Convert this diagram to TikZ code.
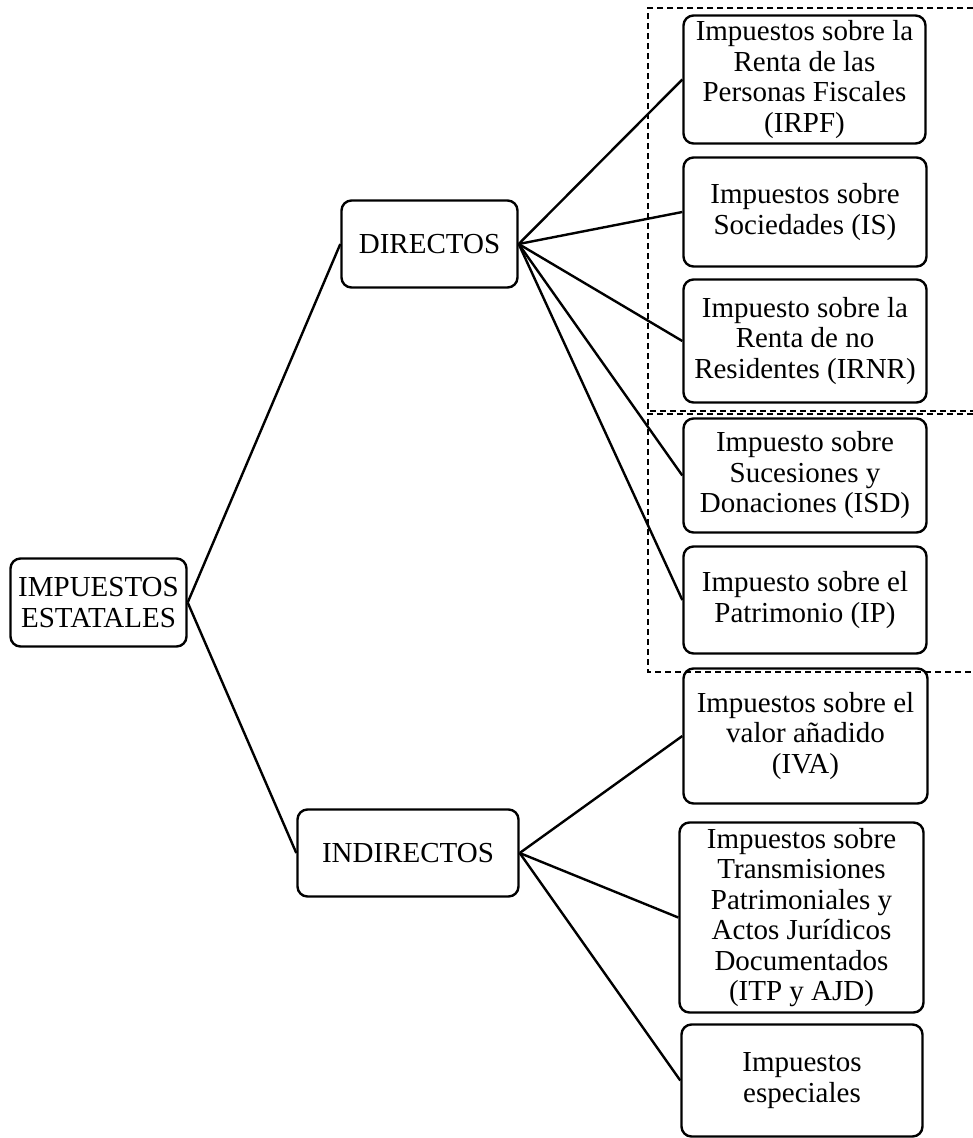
\documentclass[tikz,border=0pt]{standalone}
\usepackage{fontspec}
\setmainfont{Liberation Serif}
\tikzset{
  box/.style={draw, line width=2.4pt, rounded corners=10pt, align=center,
    inner sep=0pt, font=\fontsize{29}{30.5}\selectfont},
  link/.style={line width=2.4pt},
  group/.style={line width=1.1pt, dash pattern=on 6pt off 4pt}
}
\begin{document}
\begin{tikzpicture}[x=1pt,y=-1pt]
\useasboundingbox (0,0) rectangle (973,1138);

% dashed groupings of the direct taxes
\draw[group] (973,8) -- (648,8) -- (648,411) -- (973,411);
\draw[group] (973,414) -- (648,414) -- (648,672) -- (973,672);

% root and the two branches
\node[box, minimum width=176pt, minimum height=88pt] (root) at (98.5,602.5) {IMPUESTOS\\ESTATALES};
\node[box, minimum width=176pt, minimum height=87pt] (dir) at (429.5,244) {DIRECTOS};
\node[box, minimum width=221pt, minimum height=87pt] (ind) at (408,853) {INDIRECTOS};

% direct taxes
\node[box, minimum width=242pt, minimum height=128pt] (irpf) at (804.5,79.5) {Impuestos sobre la\\Renta de las\\Personas Fiscales\\(IRPF)};
\node[box, minimum width=243pt, minimum height=109pt] (is) at (805,212) {Impuestos sobre\\Sociedades (IS)};
\node[box, minimum width=243pt, minimum height=123pt] (irnr) at (805,341) {Impuesto sobre la\\Renta de no\\Residentes (IRNR)};
\node[box, minimum width=243pt, minimum height=114pt] (isd) at (805,475.5) {Impuesto sobre\\Sucesiones y\\Donaciones (ISD)};
\node[box, minimum width=243pt, minimum height=107pt] (ip) at (805,600) {Impuesto sobre el\\Patrimonio (IP)};

% indirect taxes
\node[box, minimum width=244pt, minimum height=135pt] (iva) at (805.5,736) {Impuestos sobre el\\valor añadido\\(IVA)};
\node[box, minimum width=244pt, minimum height=190pt] (itp) at (801.5,917.5) {Impuestos sobre\\Transmisiones\\Patrimoniales y\\Actos Jurídicos\\Documentados\\(ITP y AJD)};
\node[box, minimum width=241pt, minimum height=112pt] (esp) at (802,1080.5) {Impuestos\\especiales};

% connectors
\draw[link] (root.east) -- (dir.west);
\draw[link] (root.east) -- (ind.west);
\foreach \c in {irpf,is,irnr,isd,ip}
  \draw[link] (dir.east) -- (\c.west);
\foreach \c in {iva,itp,esp}
  \draw[link] (ind.east) -- (\c.west);
\end{tikzpicture}
\end{document}
